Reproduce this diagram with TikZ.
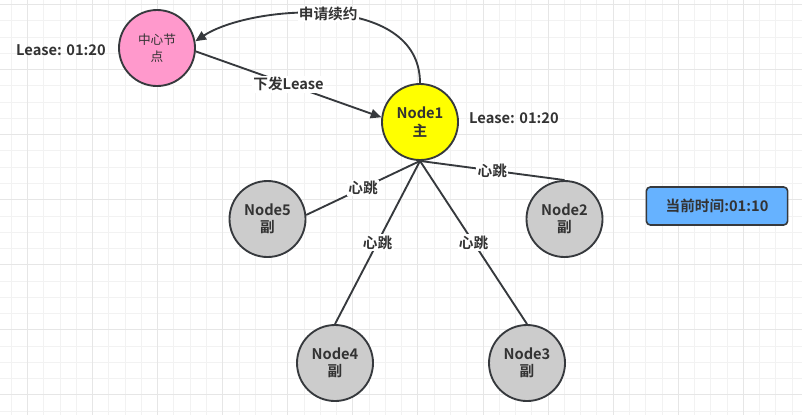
\documentclass[tikz,border=0pt]{standalone}
\usepackage{fontspec}
\setmainfont{Noto Sans CJK SC}
\newfontfamily\cjkb{Noto Sans CJK SC Bold}
\usetikzlibrary{arrows.meta}
\definecolor{ink}{HTML}{333333}
\definecolor{edge}{HTML}{36393D}
\definecolor{pinkf}{HTML}{FF99CC}
\definecolor{yelf}{HTML}{FFFF00}
\definecolor{grayf}{HTML}{CCCCCC}
\definecolor{bluef}{HTML}{66B2FF}
\definecolor{gminor}{HTML}{F2F2F2}
\definecolor{gmajor}{HTML}{E6E6E6}
\tikzset{
  circ/.style={circle, draw=edge, line width=1.4pt, minimum size=57pt, inner sep=0pt, align=center, text=ink, font=\cjkb\fontsize{11}{13}\selectfont},
  lbl/.style={text=ink, font=\cjkb\fontsize{11}{13}\selectfont},
  elbl/.style={lbl, fill=white, inner sep=1pt},
  conn/.style={draw=edge, line width=1.4pt},
  arr/.style={conn, -{Triangle[length=8pt,width=7pt]}},
}
\begin{document}
\begin{tikzpicture}[x=0.75pt,y=-0.75pt]
\fill[white] (0,0) rectangle (802,415);
\useasboundingbox (0,0) rectangle (802,415);
% grid
\foreach \i in {-1,...,48} {
  \pgfmathsetmacro\xx{27.5+16.27*\i}
  \draw[gminor, line width=0.75pt] (\xx,0) -- (\xx,415);
}
\foreach \i in {0,...,25} {
  \pgfmathsetmacro\yy{4.5+16.27*\i}
  \draw[gminor, line width=0.75pt] (0,\yy) -- (802,\yy);
}
\foreach \i in {0,...,12} {
  \pgfmathsetmacro\xx{27.5+65.08*\i}
  \draw[gmajor, line width=0.75pt] (\xx,0) -- (\xx,415);
}
\foreach \i in {0,...,6} {
  \pgfmathsetmacro\yy{4.5+65.08*\i}
  \draw[gmajor, line width=0.75pt] (0,\yy) -- (802,\yy);
}
% nodes
\node[circ, fill=pinkf, font=\fontsize{9.5}{13}\selectfont, text=ink] (c) at (157,48) {中心节\\点};
\node[circ, fill=yelf] (n1) at (420,122) {Node1\\主};
\node[circ, fill=grayf] (n5) at (267.5,219) {Node5\\副};
\node[circ, fill=grayf] (n2) at (564.5,219) {Node2\\副};
\node[circ, fill=grayf] (n4) at (335,363) {Node4\\副};
\node[circ, fill=grayf] (n3) at (527,363) {Node3\\副};
\node[lbl] (l1) at (61,50) {Lease: 01:20};
\node[lbl] (l2) at (514,118) {Lease: 01:20};
\node[draw=edge, line width=1.2pt, fill=bluef, rounded corners=3pt, minimum width=106pt, minimum height=28.5pt, lbl] (t) at (717,206) {当前时间:01:10};
% connectors
\draw[arr] (c.-5) -- node[elbl, pos=0.5] {下发Lease} (n1.173);
\draw[arr] (n1.north) .. controls (420,-9) and (250,5) .. node[elbl, pos=0.5] {申请续约} (c.10);
\draw[conn] (n1.south) -- node[elbl, pos=0.5] {心跳} (n5.6);
\draw[conn] (n1.south) -- node[elbl, pos=0.5] {心跳} (n4.north);
\draw[conn] (n1.south) -- node[elbl, pos=0.5] {心跳} (n3.north);
\draw[conn] (n1.south) -- node[elbl, pos=0.5] {心跳} (n2.north);
\end{tikzpicture}
\end{document}
